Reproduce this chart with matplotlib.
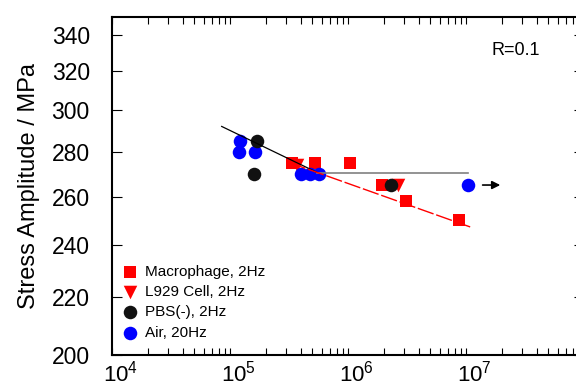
import matplotlib
matplotlib.use("Agg")
import matplotlib.pyplot as plt
from matplotlib.transforms import ScaledTranslation
from matplotlib.ticker import LogLocator, NullLocator, FixedLocator, NullFormatter, FixedFormatter

plt.rcParams["font.family"] = ["Liberation Sans", "DejaVu Sans"]
plt.rcParams["mathtext.fontset"] = "custom"
plt.rcParams["mathtext.rm"] = "Liberation Sans"
plt.rcParams["mathtext.it"] = "Liberation Sans"

# cycles to failure and stress amplitude (MPa)
macro_n = [3.35e5, 5.25e5, 1.04e6, 1.94e6, 3.1e6, 8.7e6]
macro_s = [275, 275, 275, 265, 258, 250]

l929_n = [3.7e5, 2.65e6]
l929_s = [274, 265]

pbs_n = [1.69e5, 1.6e5, 2.31e6]
pbs_s = [285, 270, 265]

air_n = [1.22e5, 1.2e5, 1.63e5, 4.0e5, 4.8e5, 5.7e5, 1.04e7]
air_s = [285, 280, 280, 270, 270, 270, 265]

# fitted S-N lines
fit_n = [8.5e4, 5.5e5]
fit_s = [292, 270.5]
limit_n = [5.5e5, 1.04e7]
limit_s = [270.5, 270.5]
cell_fit_n = [3.2e5, 1.12e7]
cell_fit_s = [275, 247]

# run-out arrow
runout_n = [1.31e7, 2.06e7]
runout_s = 265

y_ticks = [200, 220, 240, 260, 280, 300, 320, 340]
x_ticks = [1e4, 1e5, 1e6, 1e7]
x_labels = [r"$10^{4}$", r"$10^{5}$", r"$10^{6}$", r"$10^{7}$"]

fig = plt.figure(figsize=(5.76, 3.92), dpi=100)
ax = fig.add_axes([112 / 576, 37 / 392, 472 / 576, 338 / 392])

ax.plot(fit_n, fit_s, color="black", lw=0.9, zorder=5)
ax.plot(limit_n, limit_s, color="#808080", lw=1.2, zorder=5)
ax.plot(cell_fit_n, cell_fit_s, color="red", lw=1.0, ls=(0, (12, 2)), zorder=5)

ax.scatter(macro_n, macro_s, marker="s", s=80, color="red", lw=0, label="Macrophage, 2Hz", zorder=3)
ax.scatter(l929_n, l929_s, marker="v", s=95, color="red", lw=0, label="L929 Cell, 2Hz", zorder=3)
ax.scatter(air_n, air_s, marker="o", s=95, color="blue", lw=0, zorder=3)
ax.scatter(pbs_n, pbs_s, marker="o", s=95, color="#111111", lw=0, label="PBS(-), 2Hz", zorder=4)
ax.scatter([], [], marker="o", s=95, color="blue", lw=0, label="Air, 20Hz")

ax.annotate("", xy=(runout_n[1], runout_s), xytext=(runout_n[0], runout_s),
            arrowprops=dict(arrowstyle="-|>", color="black", lw=1.2, mutation_scale=12),
            zorder=6)

ax.set_xscale("log")
ax.set_yscale("log")
ax.set_xlim(1e4, 1e8)
ax.set_ylim(200, 350)

ax.yaxis.set_major_locator(FixedLocator(y_ticks))
ax.yaxis.set_major_formatter(FixedFormatter([str(v) for v in y_ticks]))
ax.yaxis.set_minor_locator(NullLocator())
ax.yaxis.set_minor_formatter(NullFormatter())
ax.xaxis.set_major_locator(FixedLocator(x_ticks))
ax.xaxis.set_major_formatter(FixedFormatter(x_labels))
ax.xaxis.set_minor_locator(LogLocator(base=10, subs=range(2, 10), numticks=10))
ax.xaxis.set_minor_formatter(NullFormatter())

ax.tick_params(axis="both", which="both", direction="in", top=True, right=True, width=0.8)
ax.tick_params(axis="y", which="major", length=7, pad=16, labelsize=16.5)
ax.tick_params(axis="x", which="both", length=5)
ax.tick_params(axis="x", which="major", pad=4, labelsize=16)
for sp in ax.spines.values():
    sp.set_linewidth(1.5)

# the decade labels sit a little right of their ticks in the original
shift = ScaledTranslation(6 / 72, 0, fig.dpi_scale_trans)
for t in ax.xaxis.get_major_ticks():
    t.label1.set_transform(t.label1.get_transform() + shift)

ax.set_ylabel("Stress Amplitude / MPa", fontsize=17, labelpad=8)

ax.text(0.855, 0.9, "R=0.1", transform=ax.transAxes, fontsize=13, ha="center", va="center")

ax.legend(loc="lower left", bbox_to_anchor=(0.022, 0.045), frameon=False, fontsize=11,
          handletextpad=0.5, labelspacing=0.42, borderpad=0, borderaxespad=0,
          handlelength=1.0, scatterpoints=1, markerscale=1.0)

fig.savefig("out.png", dpi=100)
